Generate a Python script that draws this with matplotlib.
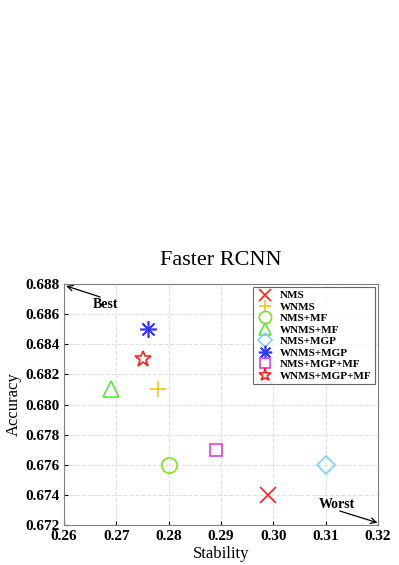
import matplotlib.pyplot as plt

# Podaci
methods = ['NMS', 'WNMS', 'NMS+MF', 'WNMS+MF', 'NMS+MGP', 'WNMS+MGP',
           'NMS+MGP+MF', 'WNMS+MGP+MF']
stability = [0.299, 0.278, 0.280, 0.269, 0.310, 0.276, 0.289, 0.275]
accuracy = [0.674, 0.681, 0.676, 0.681, 0.676, 0.685, 0.677, 0.683]
markers = ['x', '+', 'o', '^', 'D', '*', 's', '*']
colors = ['#ff2020', '#f5c518', '#80e020', '#60e040', '#80d0f8', '#3838ff',
          '#e040e0', '#ff2020']

plt.rcParams['font.family'] = ['Liberation Serif', 'DejaVu Serif']

fig = plt.figure(figsize=(3.99, 5.65), dpi=100)
ax = fig.add_axes([64/399, 40/565, 314/399, 241/565])

for i, m in enumerate(methods):
    if i == 7:
        # zvezda bez punjenja
        ax.plot(stability[i], accuracy[i], marker='*', markersize=12, linestyle='none',
                markerfacecolor='none', markeredgecolor=colors[i], markeredgewidth=1.2, label=m)
    elif i == 5:
        ax.plot(stability[i], accuracy[i], marker=(8, 2, 0), markersize=12, linestyle='none',
                color=colors[i], markeredgewidth=1.2, label=m)
    else:
        ms = 9 if markers[i] in ('D', 's') else 11
        ax.plot(stability[i], accuracy[i], marker=markers[i], markersize=ms, linestyle='none',
                markerfacecolor='none', markeredgecolor=colors[i], markeredgewidth=1.2, label=m)

ax.set_xlim(0.26, 0.32)
ax.set_ylim(0.672, 0.688)
ax.set_xticks([0.26, 0.27, 0.28, 0.29, 0.30, 0.31, 0.32])
ax.set_xticklabels(['0.26', '0.27', '0.28', '0.29', '0.30', '0.31', '0.32'])
ax.set_yticks([0.672, 0.674, 0.676, 0.678, 0.680, 0.682, 0.684, 0.686, 0.688])
ax.set_yticklabels(['0.672', '0.674', '0.676', '0.678', '0.680', '0.682', '0.684', '0.686', '0.688'])
ax.tick_params(labelsize=11, length=3, direction='in')
for lab in ax.get_xticklabels() + ax.get_yticklabels():
    lab.set_fontweight('bold')
ax.grid(True, linestyle='--', color='#e0e0e0', linewidth=0.8)
for s in ax.spines.values():
    s.set_color('#808080')

ax.set_xlabel('Stability', fontsize=12, labelpad=2)
ax.set_ylabel('Accuracy', fontsize=12, labelpad=2)
ax.set_title('Faster RCNN', fontsize=16, pad=14)

# Best / Worst strelice
ax.annotate('', xy=(0.2604, 0.68787), xytext=(0.2669, 0.68714),
            arrowprops=dict(arrowstyle='->', color='black', lw=0.9, shrinkA=0, shrinkB=0))
ax.text(0.2679, 0.68661, 'Best', fontsize=10, fontweight='bold', ha='center', va='center')
ax.annotate('', xy=(0.3199, 0.67215), xytext=(0.3127, 0.67293),
            arrowprops=dict(arrowstyle='->', color='black', lw=0.9, shrinkA=0, shrinkB=0))
ax.text(0.3121, 0.67333, 'Worst', fontsize=10, fontweight='bold', ha='center', va='center')

leg = ax.legend(loc='upper right', prop={'weight': 'bold', 'size': 8},
                frameon=True, fancybox=False, edgecolor='#404040', handlelength=1.5,
                borderpad=0.3, labelspacing=0.15, handletextpad=0.6, markerscale=0.8,
                borderaxespad=0.3)
leg.get_frame().set_linewidth(0.8)

plt.savefig('out.png', dpi=100)
